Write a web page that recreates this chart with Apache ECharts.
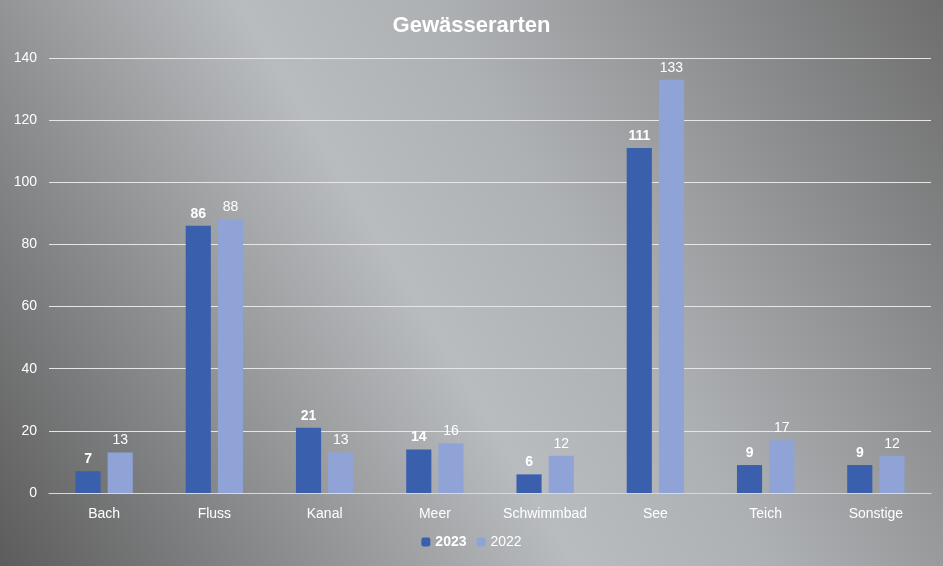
<!DOCTYPE html>
<html>
<head>
<meta charset="utf-8">
<script src="https://cdn.jsdelivr.net/npm/echarts@6/dist/echarts.min.js"></script>
<style>html,body{margin:0;padding:0;}#chart{width:943px;height:566px;}</style>
</head>
<body>
<div id="chart"></div>
<script>
const categories = ["Bach", "Fluss", "Kanal", "Meer", "Schwimmbad", "See", "Teich", "Sonstige"];
const values2023 = [7, 86, 21, 14, 6, 111, 9, 9];
const values2022 = [13, 88, 13, 16, 12, 133, 17, 12];

const chart = echarts.init(document.getElementById("chart"));
const option = {
  backgroundColor: {
    type: 'linear', x: 0, y: 1, x2: 1, y2: 0,
    colorStops: [
      { offset: 0, color: '#5c5c5c' },
      { offset: 0.45, color: '#b9bcbf' },
      { offset: 0.6, color: '#aeb1b4' },
      { offset: 1, color: '#6e6e6e' }
    ]
  },
  textStyle: { fontFamily: 'Liberation Sans, Arial, sans-serif' },
  title: {
    text: 'Gewässerarten', left: 'center', top: 10,
    textStyle: { color: '#fff', fontSize: 22, fontWeight: 'bold' }
  },
  legend: {
    bottom: 12, itemWidth: 9, itemHeight: 9, itemGap: 10,
    textStyle: { color: '#fff', fontSize: 14 },
    data: [
      { name: '2023', textStyle: { fontWeight: 'bold' } },
      { name: '2022' }
    ]
  },
  grid: { left: 49, right: 12, top: 58, bottom: 73 },
  xAxis: {
    type: 'category', data: categories,
    axisLine: { lineStyle: { color: '#d9d9d9' } },
    axisTick: { show: false },
    axisLabel: { color: '#fff', fontSize: 14, margin: 14, interval: 0 }
  },
  yAxis: {
    type: 'value', min: 0, max: 140, interval: 20,
    axisLine: { show: false },
    axisLabel: { color: '#fff', fontSize: 14, margin: 12 },
    splitLine: { lineStyle: { color: '#e6e6e6', width: 1 } }
  },
  series: [
    {
      name: '2023', type: 'bar', data: values2023,
      barGap: '28%', barCategoryGap: '48%',
      itemStyle: { color: '#3a5fad' },
      label: { show: true, position: 'top', color: '#fff', fontWeight: 'bold', fontSize: 14 }
    },
    {
      name: '2022', type: 'bar', data: values2022,
      itemStyle: { color: '#8fa3d6' },
      label: { show: true, position: 'top', color: '#fff', fontSize: 14 }
    }
  ]
};
chart.setOption(option);
</script>
</body>
</html>
